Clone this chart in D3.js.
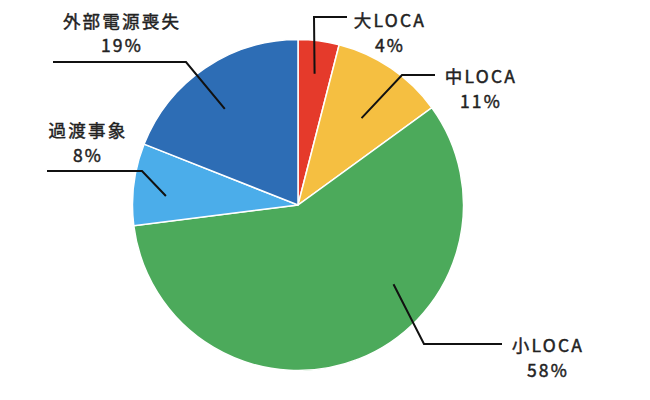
<!DOCTYPE html>
<html><head><meta charset="utf-8">
<script src="https://cdn.jsdelivr.net/npm/d3@7"></script>
<style>html,body{margin:0;padding:0;background:#fff;}</style>
</head><body>
<svg id="c" width="650" height="400"></svg>
<script>
const categories = ["大LOCA", "中LOCA", "小LOCA", "過渡事象", "外部電源喪失"];
const values = [4, 11, 58, 8, 19];
const labels = ["4%", "11%", "58%", "8%", "19%"];
const colors = ["#e53a2b", "#f5bf41", "#4caa5b", "#4badea", "#2d6db5"];

const svg = d3.select("#c");
const cx = 298, cy = 205, r = 165.5;
const g = svg.append("g").attr("transform", `translate(${cx},${cy})`);
const pie = d3.pie().sort(null).value(d => d)(values);
const arc = d3.arc().innerRadius(0).outerRadius(r);
g.selectAll("path").data(pie).enter().append("path")
  .attr("d", arc).attr("fill", (d, i) => colors[i])
  .attr("stroke", "#fff").attr("stroke-width", 1.5);

// leader lines: start inside slice (radius fraction, angle offset in degrees), elbow, horizontal end
const leaders = [
  {start: 0.80, off: 0,     elbow: [314, 17],  endX: 347, text: [390, 21]},
  {start: 0.65, off: 2,     elbow: [402, 75],  endX: 435, text: [481, 77]},
  {start: 0.75, off: -28.7, elbow: [424, 344], endX: 502, text: [548, 346]},
  {start: 0.80, off: -3.3,  elbow: [142, 171], endX: 47,  text: [88, 131]},
  {start: 0.73, off: -3.1,  elbow: [186, 62],  endX: 53,  text: [122, 21.5]}
];
pie.forEach((d, i) => {
  const L = leaders[i];
  const a = (d.startAngle + d.endAngle) / 2 + L.off * Math.PI / 180;
  const rr = r * L.start;
  const sx = cx + rr * Math.sin(a), sy = cy - rr * Math.cos(a);
  svg.append("path")
    .attr("d", d3.line()([[sx, sy], L.elbow, [L.endX, L.elbow[1]]]))
    .attr("fill", "none").attr("stroke", "#111").attr("stroke-width", 2);
  const t = svg.append("text")
    .attr("x", L.text[0]).attr("y", L.text[1])
    .attr("text-anchor", "middle")
    .attr("font-family", "'Noto Sans CJK JP', 'Noto Sans', sans-serif")
    .attr("font-size", 17.5).attr("font-weight", 400)
    .attr("letter-spacing", 2.2)
    .attr("fill", "#222").attr("stroke", "#222").attr("stroke-width", 0.45);
  t.append("tspan").attr("x", L.text[0]).attr("dy", "0.35em").text(categories[i]);
  t.append("tspan").attr("x", L.text[0]).attr("dy", 24.5).text(labels[i]);
});
</script>
</body></html>
